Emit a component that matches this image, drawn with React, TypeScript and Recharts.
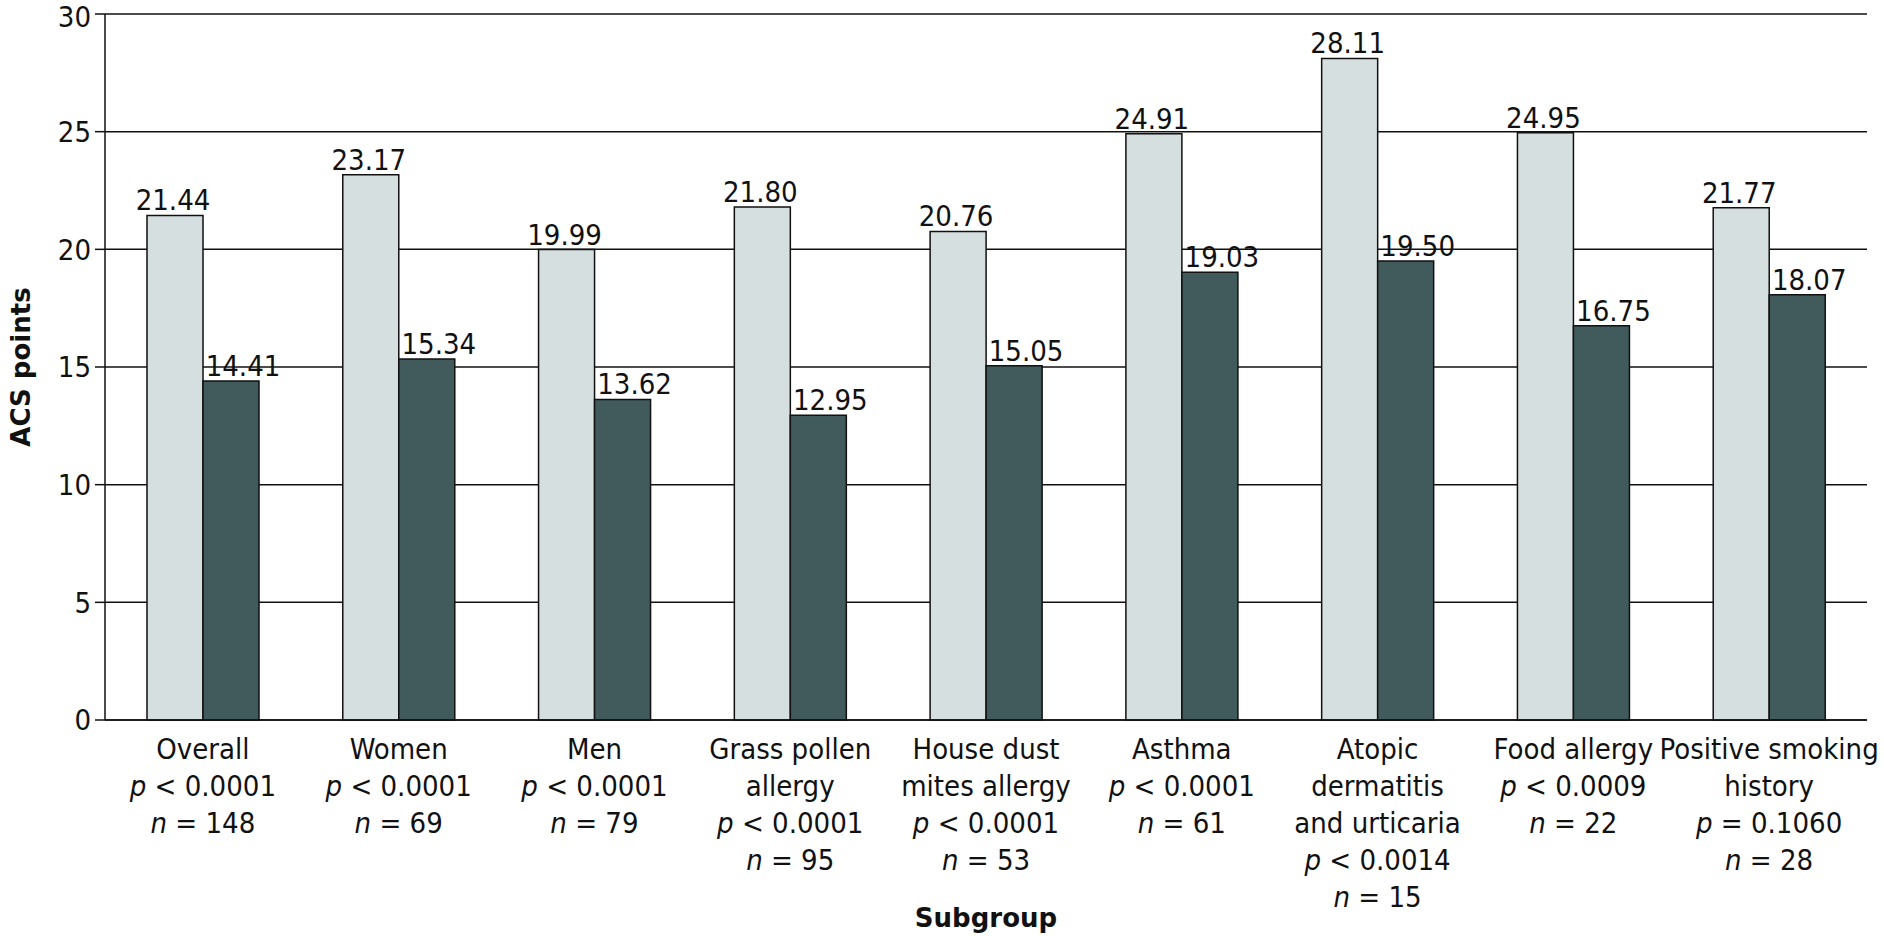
import React from "react";
import {
  BarChart,
  Bar,
  XAxis,
  YAxis,
  CartesianGrid,
  LabelList,
} from "recharts";

document.body.style.margin = "0";

const nameLines: string[][] = [
  ["Overall"],
  ["Women"],
  ["Men"],
  ["Grass pollen", "allergy"],
  ["House dust", "mites allergy"],
  ["Asthma"],
  ["Atopic", "dermatitis", "and urticaria"],
  ["Food allergy"],
  ["Positive smoking", "history"],
];
const pValues = [
  "< 0.0001",
  "< 0.0001",
  "< 0.0001",
  "< 0.0001",
  "< 0.0001",
  "< 0.0001",
  "< 0.0014",
  "< 0.0009",
  "= 0.1060",
];
const nValues = [148, 69, 79, 95, 53, 61, 15, 22, 28];
const beforeValues = [21.44, 23.17, 19.99, 21.8, 20.76, 24.91, 28.11, 24.95, 21.77];
const afterValues = [14.41, 15.34, 13.62, 12.95, 15.05, 19.03, 19.5, 16.75, 18.07];
const yTicks = [0, 5, 10, 15, 20, 25, 30];

const FONT = "'DejaVu Sans Condensed', 'Liberation Sans', sans-serif";
const TITLE_FONT = "'DejaVu Sans', sans-serif";
const FS = 29;

const data = nameLines.map((lines, i) => ({
  key: lines.join(" "),
  before: beforeValues[i],
  after: afterValues[i],
}));

function SubgroupTick(props: any) {
  const { x, y, index } = props;
  const lines = nameLines[index] || [];
  const lh = 37;
  const top = y + 27;
  return (
    <g>
      {lines.map((l, j) => (
        <text key={j} x={x} y={top + j * lh} textAnchor="middle" dominantBaseline="central" fontSize={FS} fontFamily={FONT} fill="#111">
          {l}
        </text>
      ))}
      <text x={x} y={top + lines.length * lh} textAnchor="middle" dominantBaseline="central" fontSize={FS} fontFamily={FONT} fill="#111">
        <tspan fontStyle="italic">p</tspan>
        <tspan>{" " + pValues[index]}</tspan>
      </text>
      <text x={x} y={top + (lines.length + 1) * lh} textAnchor="middle" dominantBaseline="central" fontSize={FS} fontFamily={FONT} fill="#111">
        <tspan fontStyle="italic">n</tspan>
        <tspan>{" = " + nValues[index]}</tspan>
      </text>
    </g>
  );
}

function valueLabel(shift: number) {
  return (props: any) => {
    const { x, y, width, value } = props;
    return (
      <text x={x + width / 2 + shift} y={y - 5} textAnchor="middle" fontSize={FS} fontFamily={FONT} fill="#111">
        {value.toFixed(2)}
      </text>
    );
  };
}

export default function App() {
  return (
    <div style={{ width: 1884, height: 936, background: "#fff" }}>
      <BarChart
        width={1884}
        height={936}
        data={data}
        margin={{ top: 14, right: 17, left: 40, bottom: 0 }}
        barGap={0}
        barSize={56}
      >
        <CartesianGrid vertical={false} stroke="#111" strokeWidth={1.5} />
        <XAxis
          dataKey="key"
          axisLine={{ stroke: "#111", strokeWidth: 1.5 }}
          tickLine={false}
          tickSize={0}
          height={216}
          interval={0}
          tick={<SubgroupTick />}
          label={{
            value: "Subgroup",
            position: "insideBottom",
            offset: 9,
            fontSize: 26,
            fontWeight: "bold",
            fontFamily: TITLE_FONT,
            fill: "#111",
          }}
        />
        <YAxis
          domain={[0, 30]}
          ticks={yTicks}
          width={65}
          axisLine={{ stroke: "#111", strokeWidth: 1.5 }}
          tickLine={{ stroke: "#111", strokeWidth: 1.5 }}
          tickSize={10}
          tickMargin={4}
          tick={{ fontSize: FS, fontFamily: FONT, fill: "#111" }}
          label={{
            value: "ACS points",
            angle: -90,
            position: "insideLeft",
            offset: -19,
            style: { textAnchor: "middle" },
            fontSize: 26,
            fontWeight: "bold",
            fontFamily: TITLE_FONT,
            fill: "#111",
          }}
        />
        <YAxis
          yAxisId="right"
          orientation="right"
          domain={[0, 30]}
          width={0}
          tick={false}
          tickLine={false}
          axisLine={{ stroke: "#111", strokeWidth: 1.5 }}
        />
        <Bar dataKey="before" fill="#d5dfdf" stroke="#111" strokeWidth={1.5} isAnimationActive={false}>
          <LabelList dataKey="before" content={valueLabel(-2)} />
        </Bar>
        <Bar dataKey="after" fill="#415b5c" stroke="#111" strokeWidth={1.5} isAnimationActive={false}>
          <LabelList dataKey="after" content={valueLabel(12)} />
        </Bar>
      </BarChart>
    </div>
  );
}
